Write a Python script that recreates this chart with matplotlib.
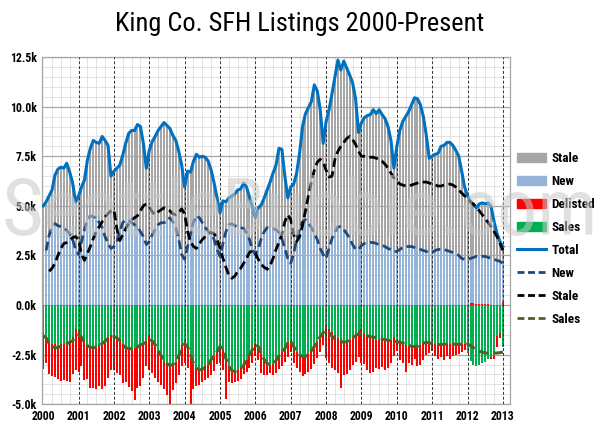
import numpy as np
import matplotlib
matplotlib.use("Agg")
import matplotlib.pyplot as plt
from matplotlib import font_manager as fm
from matplotlib.patches import Patch
from matplotlib.lines import Line2D

# monthly values, Jan 2000 .. Jan 2013, in thousands
years = list(range(2000, 2014))

total = [
    5.0, 5.2, 5.5, 5.8, 6.55, 6.85, 6.95, 6.9, 7.15, 6.7, 6.15, 5.2,
    5.5, 5.95, 6.3, 7.3, 7.9, 8.3, 8.2, 8.15, 8.5, 8.3, 8.05, 6.5,
    6.75, 6.9, 7.05, 7.55, 8.15, 8.65, 8.8, 8.8, 9.1, 9.0, 8.15, 6.9,
    7.8, 8.25, 8.5, 8.8, 9.0, 9.2, 9.05, 8.9, 8.55, 8.3, 7.75, 7.05,
    5.95, 6.75, 6.7, 7.25, 7.6, 7.45, 7.5, 7.45, 7.25, 6.8, 6.15, 5.4,
    4.65, 5.25, 5.2, 5.4, 5.5, 5.6, 5.8, 5.85, 6.15, 5.95, 5.45, 4.95,
    4.4, 4.9, 5.05, 5.4, 5.8, 6.2, 6.65, 7.05, 7.9, 7.85, 6.5, 5.4,
    5.95, 6.1, 6.65, 7.65, 9.0, 9.65, 9.95, 10.25, 11.1, 10.8, 9.85, 8.15,
    9.25, 9.85, 10.65, 11.5, 12.35, 11.85, 12.3, 11.95, 11.6, 11.2, 10.4, 8.7,
    9.2, 9.45, 9.55, 9.6, 9.85, 9.65, 9.85, 9.6, 9.4, 9.0, 8.3, 6.9,
    8.0, 8.8, 9.25, 9.5, 9.75, 10.1, 10.45, 10.4, 10.1, 9.5, 8.55, 7.4,
    7.5, 7.6, 7.65, 8.0, 8.05, 8.2, 8.2, 8.05, 7.8, 7.5, 6.75, 5.95,
    5.5, 5.2, 5.05, 4.9, 5.1, 5.15, 5.1, 5.15, 4.95, 4.2, 3.6, 3.2,
    2.95,
]

new = [
    2.75, 2.75, 3.5, 3.95, 4.1, 4.0, 3.95, 3.85, 3.75, 3.6, 3.3, 2.8,
    2.55, 3.2, 3.8, 4.3, 4.5, 4.45, 4.4, 4.15, 3.9, 3.45, 3.1, 2.85,
    2.95, 3.2, 3.7, 4.15, 4.3, 4.25, 4.15, 4.05, 3.9, 3.7, 3.45, 3.05,
    3.2, 3.55, 3.8, 4.05, 4.15, 4.15, 4.2, 4.4, 4.2, 3.9, 3.3, 2.55,
    2.3, 2.95, 3.6, 4.2, 4.5, 4.4, 4.15, 3.9, 3.7, 3.65, 3.3, 2.8,
    2.45, 3.1, 3.7, 4.05, 4.1, 4.0, 3.95, 3.9, 3.85, 3.65, 3.3, 2.8,
    2.55, 2.85, 3.35, 3.7, 3.9, 3.9, 3.85, 3.8, 3.65, 3.35, 2.85, 2.35,
    2.1, 2.6, 3.3, 3.85, 4.2, 4.3, 4.15, 3.9, 3.6, 3.3, 2.85, 2.55,
    2.35, 2.85, 3.35, 3.7, 3.95, 3.95, 3.8, 3.6, 3.35, 3.05, 2.8, 2.8,
    3.0, 3.1, 3.1, 3.15, 3.15, 3.1, 3.05, 3.0, 2.95, 2.85, 2.8, 2.7,
    2.7, 2.8, 2.9, 2.95, 2.95, 2.95, 2.9, 2.85, 2.8, 2.75, 2.7, 2.65,
    2.65, 2.75, 2.8, 2.8, 2.8, 2.75, 2.7, 2.65, 2.6, 2.5, 2.35, 2.3,
    2.3, 2.35, 2.4, 2.45, 2.45, 2.45, 2.45, 2.4, 2.35, 2.3, 2.25, 2.2,
    2.1,
]

stale = [
    None, None, 1.7, 1.85, 2.1, 2.5, 2.85, 3.1, 3.15, 3.25, 3.4, 3.45,
    3.3, 2.55, 2.25, 2.6, 2.95, 3.35, 3.7, 3.95, 4.2, 4.45, 4.6, 4.75,
    4.8, 3.85, 3.25, 3.55, 3.85, 4.1, 4.3, 4.4, 4.5, 4.75, 5.0, 5.1,
    4.95, 4.7, 4.55, 4.7, 4.8, 4.9, 4.85, 4.75, 4.6, 4.55, 4.65, 4.85,
    4.6, 3.7, 3.2, 2.95, 2.85, 3.1, 3.3, 3.45, 3.6, 3.65, 3.6, 3.3,
    2.85, 2.35, 1.9, 1.5, 1.35, 1.45, 1.7, 1.85, 2.1, 2.35, 2.65, 2.75,
    2.6, 2.3, 2.05, 1.9, 1.8, 2.0, 2.35, 2.8, 3.15, 3.55, 4.2, 4.55,
    4.3, 3.55, 3.2, 3.45, 4.0, 4.75, 5.5, 6.2, 6.8, 7.2, 7.35, 7.2,
    6.8, 6.45, 6.5, 7.35, 7.75, 8.0, 8.2, 8.4, 8.5, 8.35, 8.1, 7.75,
    7.5, 7.5, 7.45, 7.45, 7.45, 7.4, 7.35, 7.25, 7.1, 6.9, 6.65, 6.4,
    6.25, 6.1, 6.05, 6.0, 6.0, 6.05, 6.1, 6.15, 6.2, 6.2, 6.2, 6.15,
    6.1, 6.05, 6.0, 6.0, 6.05, 6.1, 6.1, 6.05, 5.95, 5.8, 5.65, 5.5,
    5.4, 5.2, 5.1, 4.9, 4.75, 4.55, 4.35, 4.15, 3.95, 3.7, 3.45, 3.1,
    2.75,
]

sales_trend = [
    -1.55, -1.65, -1.95, -2.12, -2.15, -2.15, -2.08, -2.02, -1.95, -1.88, -1.8, -1.6,
    -1.52, -1.62, -1.88, -2.05, -2.13, -2.16, -2.12, -2.05, -1.95, -1.82, -1.7, -1.62,
    -1.6, -1.65, -1.8, -2.0, -2.15, -2.2, -2.2, -2.18, -2.12, -2.02, -1.95, -1.85,
    -1.76, -1.8, -2.0, -2.3, -2.55, -2.8, -2.95, -3.05, -3.0, -2.85, -2.55, -2.2,
    -1.95, -2.1, -2.5, -2.95, -3.2, -3.27, -3.25, -3.1, -3.0, -2.75, -2.55, -2.35,
    -2.1, -2.2, -2.7, -3.1, -3.3, -3.35, -3.3, -3.2, -3.05, -2.75, -2.5, -2.25,
    -1.98, -2.1, -2.45, -2.75, -2.95, -3.0, -2.95, -2.8, -2.55, -2.35, -2.2, -1.85,
    -1.82, -2.1, -2.35, -2.5, -2.6, -2.6, -2.45, -2.3, -2.1, -1.85, -1.6, -1.4,
    -1.28, -1.4, -1.58, -1.72, -1.8, -1.83, -1.88, -1.85, -1.75, -1.65, -1.55, -1.46,
    -1.46, -1.5, -1.55, -1.6, -1.62, -1.66, -1.7, -1.72, -1.75, -1.77, -1.8, -1.82,
    -1.85, -1.88, -1.92, -1.98, -2.03, -2.08, -2.1, -2.08, -2.0, -1.92, -1.88, -1.9,
    -1.95, -1.98, -2.0, -2.0, -1.98, -1.97, -1.97, -1.97, -1.97, -1.98, -1.98, -1.97,
    -1.96, -2.05, -2.16, -2.25, -2.33, -2.38, -2.42, -2.43, -2.43, -2.42, -2.42, -2.4,
    -2.38,
]

sales = [
    -1.43, -1.55, -1.8, -1.97, -1.97, -2.05, -1.97, -1.97, -1.88, -1.8, -1.63, -1.2,
    -1.3, -1.55, -1.8, -2.0, -2.1, -2.15, -2.1, -2.0, -1.9, -1.75, -1.6, -1.5,
    -1.5, -1.6, -1.75, -1.95, -2.1, -2.2, -2.2, -2.15, -2.1, -2.0, -1.9, -1.8,
    -1.55, -1.8, -2.0, -2.3, -2.55, -2.8, -2.95, -3.05, -3.0, -2.85, -2.4, -2.0,
    -1.8, -2.1, -2.5, -2.95, -3.2, -3.27, -3.25, -3.1, -3.0, -2.75, -2.55, -2.35,
    -2.1, -2.2, -2.7, -3.1, -3.3, -3.35, -3.3, -3.2, -3.05, -2.75, -2.5, -2.25,
    -1.98, -2.1, -2.45, -2.75, -2.95, -3.0, -2.95, -2.8, -2.55, -2.35, -2.2, -1.85,
    -1.82, -2.1, -2.35, -2.5, -2.6, -2.6, -2.45, -2.3, -2.1, -1.85, -1.6, -1.4,
    -1.0, -1.2, -1.35, -1.5, -1.65, -1.75, -1.85, -1.85, -1.75, -1.65, -1.55, -1.3,
    -1.2, -1.4, -1.55, -1.65, -1.7, -1.75, -1.75, -1.8, -1.8, -1.8, -1.75, -1.6,
    -1.85, -1.9, -1.95, -2.0, -2.05, -2.1, -2.1, -2.05, -2.0, -1.9, -1.85, -1.85,
    -1.9, -1.95, -2.0, -2.0, -2.0, -1.98, -1.97, -1.97, -1.97, -1.98, -1.98, -1.97,
    -2.35, -2.8, -3.0, -3.05, -3.0, -2.9, -2.85, -2.7, -2.6, -2.55, -1.55, -1.4,
    -2.1,
]

delisted = [
    -1.8, -1.35, -1.7, -1.6, -1.65, -1.7, -1.85, -1.8, -1.95, -2.1, -1.85, -2.1,
    -2.1, -1.55, -2.0, -1.75, -2.1, -2.05, -2.15, -2.1, -2.35, -2.35, -2.1, -1.8,
    -1.8, -1.85, -1.8, -2.0, -1.8, -1.95, -2.15, -2.65, -2.1, -2.1, -1.8, -1.25,
    -1.75, -1.65, -1.7, -1.6, -1.5, -1.45, -1.6, -1.95, -1.3, -1.1, -1.15, -1.05,
    -1.1, -1.1, -2.5, -1.3, -0.9, -0.75, -0.65, -0.7, -0.7, -0.8, -0.8, -0.6,
    -0.8, -1.1, -2.05, -0.8, -0.65, -0.55, -0.55, -0.55, -0.45, -0.65, -0.7, -0.65,
    -0.6, -0.65, -1.0, -0.8, -0.6, -0.45, -0.6, -0.65, -0.7, -0.7, -0.65, -0.75,
    -0.55, -0.8, -0.85, -0.9, -1.0, -0.9, -0.95, -0.95, -0.85, -0.8, -0.75, -0.6,
    -1.65, -1.7, -1.85, -1.8, -1.8, -2.45, -1.7, -1.65, -1.55, -1.35, -1.3, -1.3,
    -1.7, -1.55, -1.75, -1.8, -1.7, -1.45, -1.5, -1.35, -1.5, -1.4, -1.15, -0.95,
    -0.45, -0.85, -0.95, -1.4, -0.85, -0.9, -0.6, -1.0, -1.0, -0.85, -0.65, -0.55,
    -0.4, -0.6, -0.7, -0.6, -0.75, -0.6, -0.75, -0.6, -0.55, -0.5, -0.4, -0.3,
    -0.05, 0.08, 0.1, 0.05, 0.06, 0.04, 0.03, 0.03, -0.1, -0.15, -0.55, -0.25,
    0.15,
]

# pick a narrow font if one is installed
names = {f.name for f in fm.fontManager.ttflist}
cond = next((f for f in ["Roboto Condensed", "Liberation Sans Narrow", "Open Sans Condensed"]
             if f in names), "DejaVu Sans")
stretch = "condensed"

c_stale, c_new, c_del, c_sales = "#a6a6a6", "#95b3d7", "#ff0000", "#00b050"
c_total, c_newl, c_stalel, c_salesl = "#0070c0", "#1f497d", "#000000", "#4f6228"

x = np.arange(len(total))
tot = np.array(total)
nw = np.array(new)
dl = np.array(delisted)
sl = np.array(sales)
st = np.array([np.nan if v is None else v for v in stale])

pos_base = np.clip(dl, 0, None)

fig = plt.figure(figsize=(6, 4.36), dpi=100)
ax = fig.add_axes([0.07, 0.073, 0.78, 0.796])

w = 0.68
ax.bar(x, nw, w, bottom=pos_base, color=c_new, zorder=2)
ax.bar(x, tot - nw - pos_base, w, bottom=pos_base + nw, color=c_stale, zorder=2)
ax.bar(x, sl, w, color=c_sales, zorder=2)
ax.bar(x, np.clip(dl, None, 0), w, bottom=sl, color=c_del, zorder=2)
ax.bar(x, pos_base, w, color=c_del, zorder=2)

for i in range(1, len(years)):
    ax.axvline(12 * i, color="#333333", lw=0.7, ls=(0, (3, 2)), zorder=3)

dash = (0, (3.2, 1.6))
ax.plot(x, tot, color=c_total, lw=2.2, zorder=5, solid_joinstyle="round")
ax.plot(x[1:], nw[1:], color=c_newl, lw=2.0, ls=dash, zorder=5)
ax.plot(x, st, color=c_stalel, lw=2.0, ls=dash, zorder=5)
ax.plot(x, sales_trend, color=c_salesl, lw=2.2, ls=dash, zorder=5)

ax.set_xlim(-0.4, 158.4)
ax.set_ylim(-5.0, 12.5)
ax.set_yticks(np.arange(-5.0, 12.6, 2.5))
ax.set_yticks(np.arange(-5.0, 12.6, 0.5), minor=True)
ax.set_xticks([12 * i for i in range(len(years))])
ax.set_xticks(np.arange(0, 158, 3), minor=True)
ax.set_xticklabels([str(y) for y in years])
ax.set_yticklabels([f"{v:.1f}k" for v in np.arange(-5.0, 12.6, 2.5)])
for lbl in ax.get_xticklabels() + ax.get_yticklabels():
    lbl.set_fontfamily(cond)
    lbl.set_fontstretch(stretch)
    lbl.set_fontweight("bold")
    lbl.set_fontsize(8.5)

ax.grid(which="minor", axis="both", color="#dedede", lw=0.6, zorder=0)
ax.grid(which="major", axis="y", color="#a6a6a6", lw=0.9, zorder=0)
ax.set_axisbelow(True)
ax.tick_params(which="both", length=0, pad=4)
for s in ax.spines.values():
    s.set_color("#a6a6a6")
    s.set_linewidth(0.9)

fig.text(0.5, 0.945, "King Co. SFH Listings 2000-Present", ha="center", va="center",
         fontsize=19, family=cond, fontstretch=stretch)

handles = [
    Patch(color=c_stale, label="Stale"),
    Patch(color=c_new, label="New"),
    Patch(color=c_del, label="Delisted"),
    Patch(color=c_sales, label="Sales"),
    Line2D([], [], color=c_total, lw=2.2, label="Total"),
    Line2D([], [], color=c_newl, lw=2.0, ls=(0, (2.5, 1.3)), label="New"),
    Line2D([], [], color=c_stalel, lw=2.0, ls=(0, (2.5, 1.3)), label="Stale"),
    Line2D([], [], color=c_salesl, lw=2.0, ls=(0, (2.5, 1.3)), label="Sales"),
]
leg = fig.legend(handles=handles, loc="center left", bbox_to_anchor=(0.862, 0.452),
                 frameon=False, handlelength=2.2, handleheight=0.6, labelspacing=0.75,
                 handletextpad=0.4, borderpad=0, borderaxespad=0,
                 prop=fm.FontProperties(family=cond, stretch=stretch, weight="bold", size=9.5))

wm = fig.text(0.5, 0.462, "SeattleBubble.com", ha="center", va="baseline",
              fontsize=70, family=cond, fontstretch=stretch, color="#c8c8c8", alpha=0.55,
              zorder=10)
fig.canvas.draw()
width = wm.get_window_extent().width
wm.set_fontsize(70 * 596 / width)

fig.savefig("out.png", dpi=100)
